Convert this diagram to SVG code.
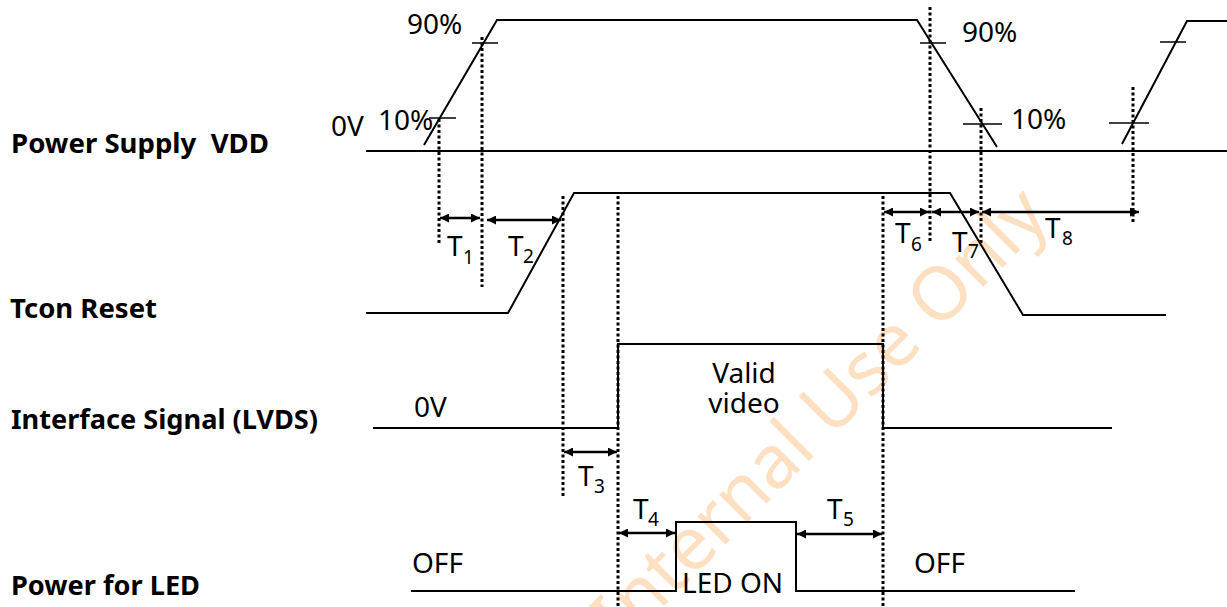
<svg xmlns="http://www.w3.org/2000/svg" width="1227" height="607" viewBox="0 0 1227 607">
<style>
  .wave{fill:none;stroke:#000;stroke-width:2}
  .tick{fill:none;stroke:#000;stroke-width:1.5}
  .dot{fill:none;stroke:#000;stroke-width:3;stroke-dasharray:3 2.5}
  .arr{fill:none;stroke:#000;stroke-width:2.5;marker-start:url(#ah);marker-end:url(#ah)}
  .lbl{font-family:"Noto Sans","Open Sans","DejaVu Sans",sans-serif;font-size:28px;fill:#000}
  .sub{font-family:"Noto Sans","Open Sans","DejaVu Sans",sans-serif;font-size:19px;fill:#000}
  .name{font-family:"Noto Sans","Open Sans","DejaVu Sans",sans-serif;font-size:26px;font-weight:bold;fill:#000}
  .wm{font-family:"Noto Sans","Open Sans","DejaVu Sans",sans-serif;font-size:74px;fill:#FBC58E;fill-opacity:0.55}
</style>
<defs>
  <marker id="ah" viewBox="0 0 10 10" refX="10" refY="5" markerWidth="10" markerHeight="9" markerUnits="userSpaceOnUse" orient="auto-start-reverse">
    <path d="M0,0 L10,5 L0,10 z" fill="#000"/>
  </marker>
</defs>
<rect width="1227" height="607" fill="#fff"/>

<g id="watermark">
  <text class="wm" x="837" y="433" text-anchor="middle" transform="rotate(-45 837 433)">Internal Use Only</text>
</g>

<g id="labels">
  <text class="name" x="11" y="153" textLength="258" lengthAdjust="spacingAndGlyphs" xml:space="preserve">Power Supply  VDD</text>
  <text class="name" x="10" y="318" textLength="147" lengthAdjust="spacingAndGlyphs">Tcon Reset</text>
  <text class="name" x="11" y="429" textLength="307" lengthAdjust="spacingAndGlyphs">Interface Signal (LVDS)</text>
  <text class="name" x="11" y="595" textLength="189" lengthAdjust="spacingAndGlyphs">Power for LED</text>
</g>

<g id="vdd">
  <line class="wave" x1="366" y1="151" x2="1227" y2="151"/>
  <polyline class="wave" points="424,145 497,20 917,20 997,147"/>
  <polyline class="wave" points="1122,144 1187,21 1227,21"/>
  <line class="tick" x1="472" y1="43" x2="498" y2="43"/>
  <line class="tick" x1="429" y1="118" x2="456" y2="118"/>
  <line class="tick" x1="920" y1="43" x2="946" y2="43"/>
  <line class="tick" x1="963" y1="124" x2="1002" y2="124"/>
  <line class="tick" x1="1109" y1="123" x2="1149" y2="123"/>
  <line class="tick" x1="1160" y1="42" x2="1186" y2="42"/>
  <text class="lbl" x="407" y="34">90%</text>
  <text class="lbl" x="378" y="130">10%</text>
  <text class="lbl" x="331" y="136">0V</text>
  <text class="lbl" x="962" y="42">90%</text>
  <text class="lbl" x="1011" y="129">10%</text>
</g>

<g id="tcon">
  <polyline class="wave" points="366,313 508,313 574,193 950,193 1023,315 1166,315"/>
</g>

<g id="lvds">
  <polyline class="wave" points="373,428 618,428 618,344 883,344 883,428 1112,428"/>
  <text class="lbl" x="414" y="417">0V</text>
  <text class="lbl" x="744" y="383" text-anchor="middle" font-size="29">Valid</text>
  <text class="lbl" x="744" y="413" text-anchor="middle" font-size="29">video</text>
</g>

<g id="led">
  <polyline class="wave" points="411,591 676,591 676,522 796,522 796,591 1075,591"/>
  <text class="lbl" x="682" y="593" font-size="29">LED ON</text>
  <text class="lbl" x="412" y="573">OFF</text>
  <text class="lbl" x="914" y="573">OFF</text>
</g>

<g id="connectors">
  <line class="dot" x1="439" y1="119" x2="439" y2="243"/>
  <line class="dot" x1="482" y1="37" x2="482" y2="287"/>
  <line class="dot" x1="563" y1="196" x2="563" y2="498"/>
  <line class="dot" x1="618" y1="196" x2="618" y2="607"/>
  <line class="dot" x1="883" y1="196" x2="883" y2="607"/>
  <line class="dot" x1="930" y1="7" x2="930" y2="243"/>
  <line class="dot" x1="981" y1="108" x2="981" y2="245"/>
  <line class="dot" x1="1133" y1="87" x2="1133" y2="223"/>

  <line class="arr" x1="440" y1="218" x2="480" y2="218"/>
  <line class="arr" x1="487" y1="220" x2="561" y2="220"/>
  <line class="arr" x1="564" y1="452" x2="617" y2="452"/>
  <line class="arr" x1="619" y1="533" x2="675" y2="533"/>
  <line class="arr" x1="797" y1="534" x2="882" y2="534"/>
  <line class="arr" x1="884" y1="212" x2="929" y2="212"/>
  <line class="arr" x1="932" y1="212" x2="979" y2="212"/>
  <line class="arr" x1="982" y1="212" x2="1139" y2="212"/>
</g>

<g id="timing-labels">
  <text class="lbl" x="447" y="256">T</text><text class="sub" x="463" y="264">1</text>
  <text class="lbl" x="508" y="256">T</text><text class="sub" x="523" y="263">2</text>
  <text class="lbl" x="578" y="486">T</text><text class="sub" x="594" y="493">3</text>
  <text class="lbl" x="633" y="519">T</text><text class="sub" x="648" y="526">4</text>
  <text class="lbl" x="827" y="519">T</text><text class="sub" x="843" y="526">5</text>
  <text class="lbl" x="895" y="243">T</text><text class="sub" x="911" y="251">6</text>
  <text class="lbl" x="952" y="252">T</text><text class="sub" x="968" y="258">7</text>
  <text class="lbl" x="1045" y="238">T</text><text class="sub" x="1062" y="245">8</text>
</g>
</svg>
